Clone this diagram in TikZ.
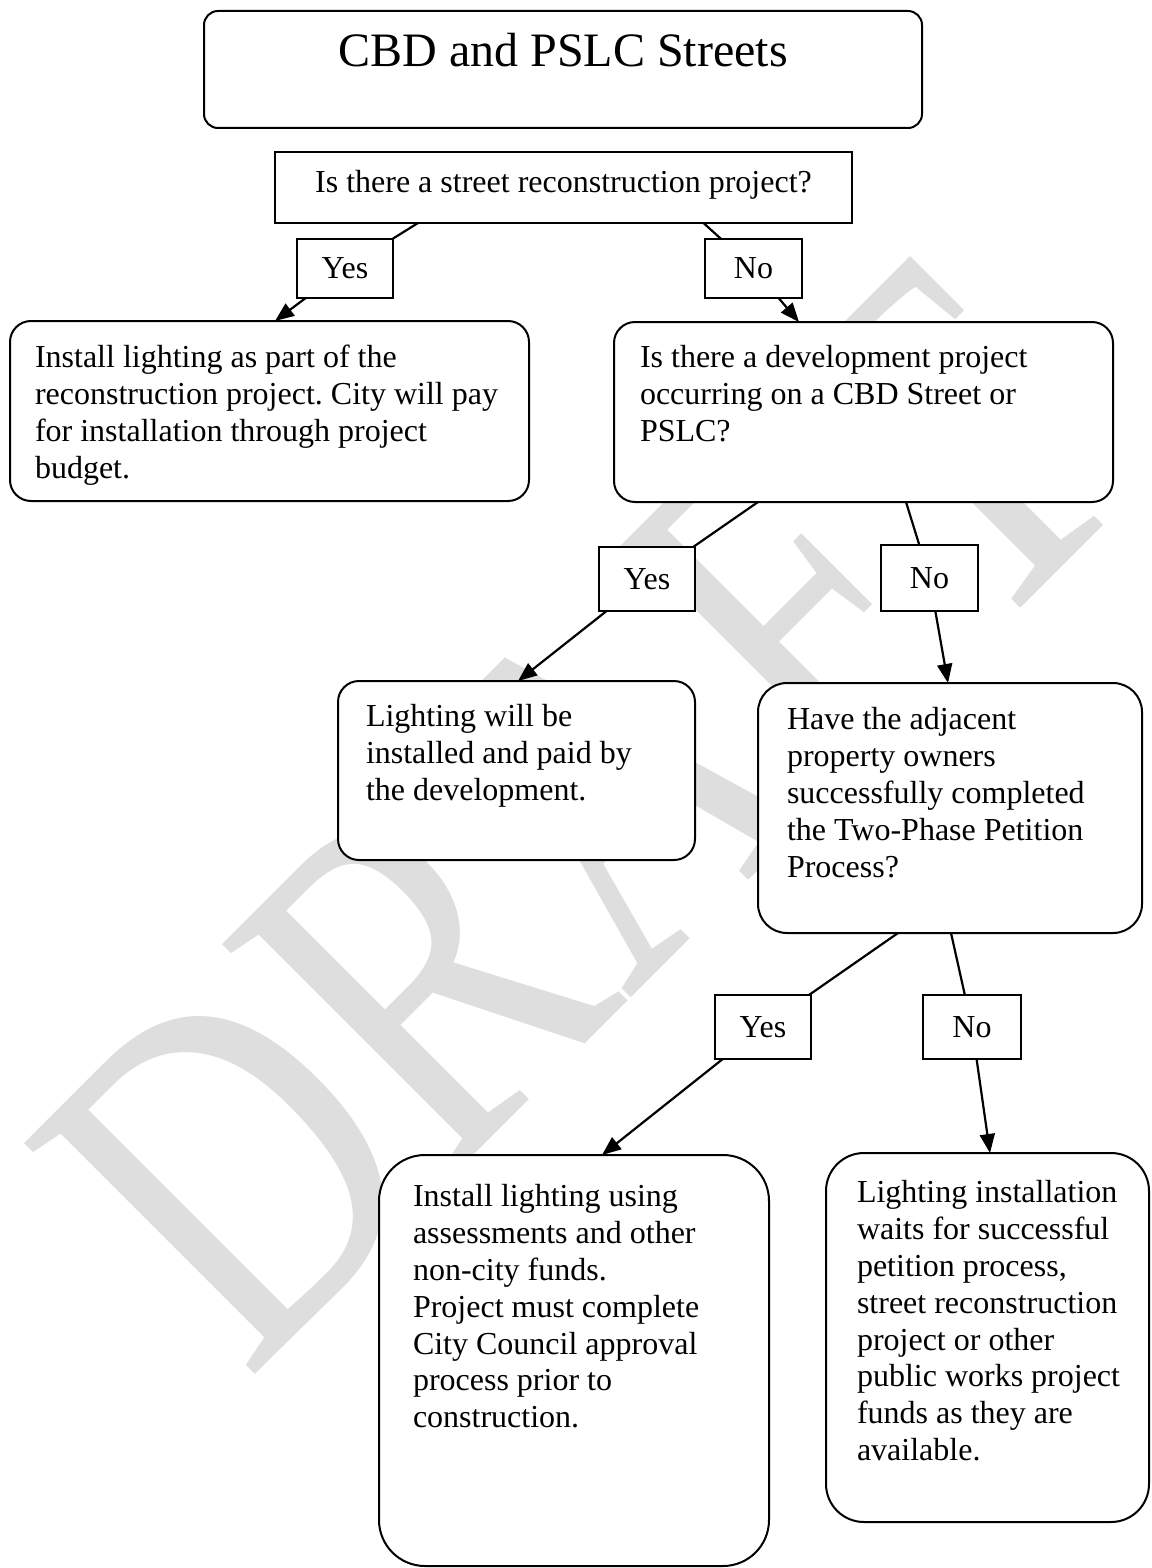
\documentclass[tikz,border=0pt]{standalone}
\usepackage{fontspec}
\setmainfont{Liberation Serif}
\usepackage{graphicx}
\usetikzlibrary{arrows.meta,calc}
\definecolor{wmgray}{RGB}{222,222,222}
\newcommand\bodyfont{\fontsize{32}{36.8}\selectfont}
\newcommand\titlefont{\fontsize{48}{55}\selectfont}
\newcommand\wmfont{\fontsize{388}{400}\selectfont}
\frenchspacing
\begin{document}
\begin{tikzpicture}[x=1pt,y=-1pt,
  every node/.style={inner sep=0pt, outer sep=0pt},
  rbox/.style={draw, line width=2pt, fill=white, rounded corners=#1},
  sbox/.style={draw, line width=2pt, fill=white},
  lbl/.style={draw, line width=2pt, fill=white, font=\bodyfont},
  btext/.style={anchor=north west, align=left, font=\bodyfont},
  conn/.style={line width=2.2pt},
  arr/.style={line width=2.2pt, -{Triangle[length=19pt,width=15pt]}},
]
\useasboundingbox (0,0) rectangle (1151,1568);
\clip (0,0) rectangle (1151,1568);

% watermark
\node[rotate=45, anchor=base west, text=wmgray, font=\wmfont] (wm) at (247,1382) {\scalebox{1}[1.286]{DRAFT}};

% main boxes
\node[rbox=14pt, minimum width=718pt, minimum height=117pt] (title) at (563,69.5) {};
\node[anchor=base, font=\titlefont] (titletext) at (563,67) {CBD and PSLC Streets};
\node[sbox, minimum width=577pt, minimum height=71pt] (q) at (563.5,187.5) {};
\node[anchor=base, font=\bodyfont] (qtext) at (563.5,192) {Is there a street reconstruction project?};

\node[rbox=21pt, minimum width=519pt, minimum height=180pt] (a) at (269.5,411) {};
\node[btext] (atext) at (35,342.2) {\strut Install lighting as part of the\\reconstruction project. City will pay\\for installation through project\\budget.};

\node[rbox=21pt, minimum width=499pt, minimum height=180pt] (b) at (863.5,412) {};
\node[btext] (btext) at (640,342.2) {\strut Is there a development project\\occurring on a CBD Street or\\PSLC?};

\node[rbox=21pt, minimum width=357pt, minimum height=179pt] (c) at (516.5,770.5) {};
\node[btext] (ctext) at (366,701.2) {\strut Lighting will be\\installed and paid by\\the development.};

\node[rbox=29pt, minimum width=384pt, minimum height=250pt] (d) at (950,808) {};
\node[btext] (dtext) at (787,704.2) {\strut Have the adjacent\\property owners\\successfully completed\\the Two-Phase Petition\\Process?};

\node[rbox=46pt, minimum width=390pt, minimum height=411pt] (e) at (574,1360.5) {};
\node[btext] (etext) at (413,1181.2) {\strut Install lighting using\\assessments and other\\non-city funds.\\Project must complete\\City Council approval\\process prior to\\construction.};

\node[rbox=38pt, minimum width=323pt, minimum height=369pt] (f) at (987.5,1337.5) {};
\node[btext] (ftext) at (857,1177.2) {\strut Lighting installation\\waits for successful\\petition process,\\street reconstruction\\project or other\\public works project\\funds as they are\\available.};

% Yes / No labels
\node[lbl, minimum width=96pt, minimum height=59pt] (yes1) at (345,268.5) {Yes};
\node[lbl, minimum width=97pt, minimum height=59pt] (no1) at (753.5,268.5) {No};
\node[lbl, minimum width=96pt, minimum height=64pt] (yes2) at (647,579) {Yes};
\node[lbl, minimum width=97pt, minimum height=66pt] (no2) at (929.5,578) {No};
\node[lbl, minimum width=96pt, minimum height=64pt] (yes3) at (763,1027) {Yes};
\node[lbl, minimum width=98pt, minimum height=64pt] (no3) at (972,1027) {No};

% connector end points on box borders
\coordinate (q-y) at (418,223);
\coordinate (q-n) at (703.5,223);
\coordinate (a-in) at (275,321);
\coordinate (b-in) at (799,322);
\coordinate (b-y) at (758,502);
\coordinate (b-n) at (906,502);
\coordinate (c-in) at (518,681);
\coordinate (d-in) at (948,683);
\coordinate (d-y) at (898,933);
\coordinate (d-n) at (951,933);
\coordinate (e-in) at (602,1155);
\coordinate (f-in) at (990,1153);

% connectors
\draw[conn] (q-y) -- (yes1);
\draw[arr] (yes1) -- (a-in);
\draw[conn] (q-n) -- (no1);
\draw[arr] (no1) -- (b-in);
\draw[conn] (b-y) -- (yes2);
\draw[arr] (yes2) -- (c-in);
\draw[conn] (b-n) -- (no2);
\draw[arr] (no2) -- (d-in);
\draw[conn] (d-y) -- (yes3);
\draw[arr] (yes3) -- (e-in);
\draw[conn] (d-n) -- (no3);
\draw[arr] (no3) -- (f-in);
\end{tikzpicture}
\end{document}
